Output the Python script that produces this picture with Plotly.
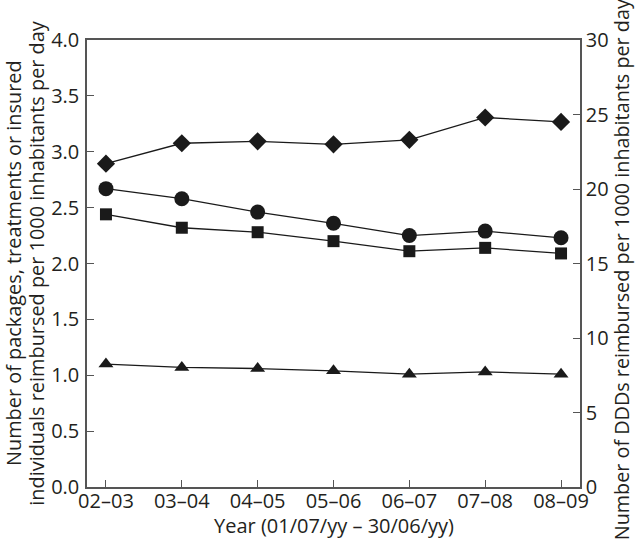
import plotly.graph_objects as go

years = ["02–03", "03–04", "04–05", "05–06", "06–07", "07–08", "08–09"]
ddds = [21.7, 23.07, 23.2, 23.0, 23.3, 24.8, 24.5]          # diamonds, right axis
circles = [2.67, 2.58, 2.46, 2.36, 2.25, 2.29, 2.23]         # left axis
squares = [2.44, 2.32, 2.28, 2.20, 2.11, 2.14, 2.09]         # left axis
triangles = [1.10, 1.07, 1.06, 1.04, 1.01, 1.03, 1.01]       # left axis

left_ticks = [0, 0.5, 1, 1.5, 2, 2.5, 3, 3.5, 4]
right_ticks = [0, 5, 10, 15, 20, 25, 30]

x_title = "Year (01/07/yy – 30/06/yy)"
left_title_1 = "Number of packages, treatments or insured"
left_title_2 = "individuals reimbursed per 1000 inhabitants per day"
right_title = "Number of DDDs reimbursed per 1000 inhabitants per day"

TXT = "#231f20"
AX = "#555555"
FONT = "Open Sans"

fig = go.Figure()
line = dict(color="#1a1a1a", width=1.3)
fig.add_trace(go.Scatter(x=years, y=ddds, yaxis="y2", mode="lines+markers", line=line,
                         marker=dict(symbol="diamond", size=14, color="#1a1a1a")))
fig.add_trace(go.Scatter(x=years, y=circles, mode="lines+markers", line=line,
                         marker=dict(symbol="circle", size=15, color="#1a1a1a")))
fig.add_trace(go.Scatter(x=years, y=squares, mode="lines+markers", line=line,
                         marker=dict(symbol="square", size=12, color="#1a1a1a")))
fig.add_trace(go.Scatter(x=years, y=triangles, mode="lines+markers", line=line,
                         marker=dict(symbol="triangle-up", size=13, color="#1a1a1a")))

fig.update_layout(
    width=640, height=542,
    margin=dict(l=87, r=60, t=40, b=55),
    paper_bgcolor="white", plot_bgcolor="white",
    showlegend=False,
    font=dict(family=FONT, size=20, color=TXT),
    xaxis=dict(type="category", range=[-0.25, 6.25], showline=True, linecolor=AX, linewidth=1.5,
               mirror=True, ticks="inside", ticklen=7, tickcolor=AX, showgrid=False, zeroline=False,
               tickfont=dict(size=20), ticklabelstandoff=-5),
    yaxis=dict(range=[0, 4], tickvals=left_ticks, tickformat=".1f", showline=True, linecolor=AX,
               linewidth=1.5, ticks="inside", ticklen=7, tickcolor=AX, showgrid=False, zeroline=False,
               tickfont=dict(size=20), ticklabelstandoff=2),
    yaxis2=dict(range=[0, 30], tickvals=right_ticks, overlaying="y", side="right", showline=True,
                linecolor=AX, linewidth=1.5, ticks="inside", ticklen=7, tickcolor=AX, showgrid=False,
                zeroline=False, tickfont=dict(size=20), ticklabelstandoff=0),
)

def ann(text, x, y, size, angle=0):
    fig.add_annotation(text=text, x=x, y=y, xref="paper", yref="paper", showarrow=False,
                       xanchor="center", yanchor="middle", textangle=angle,
                       font=dict(family=FONT, color=TXT, size=size))

ann(x_title, 0.5, -0.086, 20)
ann(left_title_1, -0.149, 0.5, 19.9, -90)
ann(left_title_2, -0.103, 0.5, 19.9, -90)
ann(right_title, 1.083, 0.487, 19.8, -90)

fig.write_html("out.html", config={"displayModeBar": False},
               post_script="document.body.style.margin='0';document.body.style.overflow='hidden';")
